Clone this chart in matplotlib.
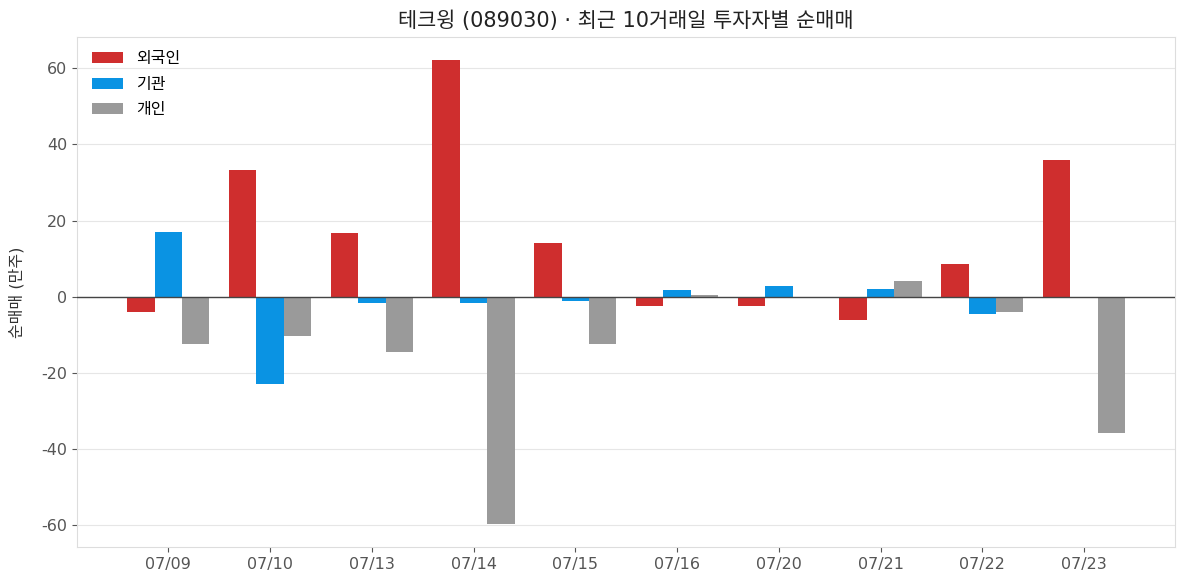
import matplotlib
matplotlib.use("Agg")
import matplotlib.pyplot as plt
import numpy as np

plt.rcParams["font.family"] = ["DejaVu Sans", "Noto Sans CJK KR"]
plt.rcParams["axes.unicode_minus"] = False

dates = ["07/09", "07/10", "07/13", "07/14", "07/15",
         "07/16", "07/20", "07/21", "07/22", "07/23"]
foreign = [-3.9, 33.2, 16.8, 62.1, 14.2, -2.5, -2.5, -6.0, 8.7, 35.8]
institution = [17.1, -22.8, -1.75, -1.75, -1.2, 1.8, 2.9, 2.1, -4.4, 0.0]
individual = [-12.3, -10.2, -14.6, -59.6, -12.5, 0.5, 0.0, 4.2, -4.1, -35.7]

series = [
    ("외국인", foreign, "#cf2e2e"),
    ("기관", institution, "#0a93e3"),
    ("개인", individual, "#9a9a9a"),
]

fig, ax = plt.subplots(figsize=(11.87, 5.87), dpi=100)
fig.subplots_adjust(left=0.065, right=0.99, top=0.937, bottom=0.068)

x = np.arange(len(dates))
width = 0.27
for i, (label, values, color) in enumerate(series):
    ax.bar(x + (i - 1) * width, values, width, color=color, label=label, zorder=2)

ax.axhline(0, color="#444444", linewidth=1, zorder=3)
ax.yaxis.grid(True, color="#e6e6e6", linewidth=0.8, zorder=0)
ax.set_axisbelow(True)

ax.set_xticks(x)
ax.set_xticklabels(dates)
ax.set_yticks([-60, -40, -20, 0, 20, 40, 60])
ax.tick_params(colors="#555555", labelsize=11.5)
for spine in ax.spines.values():
    spine.set_color("#dddddd")

ax.set_ylabel("순매매 (만주)", fontsize=11.5, color="#333333", labelpad=12)
ax.set_title("테크윙 (089030) · 최근 10거래일 투자자별 순매매",
             fontsize=15, color="#222222", pad=7)

ax.legend(loc="upper left", frameon=False, fontsize=11.5, labelspacing=0.65)

fig.savefig("out.png", dpi=100)
